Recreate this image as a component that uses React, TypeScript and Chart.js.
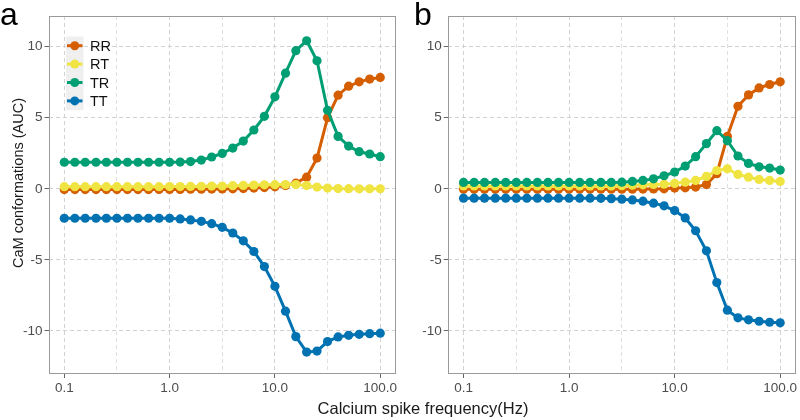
import React, { useEffect, useRef } from "react";
import { Chart, registerables } from "chart.js";
Chart.register(...registerables);

const FREQ = [0.1, 0.126, 0.158, 0.2, 0.251, 0.316, 0.398, 0.501, 0.631, 0.794, 1, 1.26, 1.58, 2, 2.51, 3.16, 3.98, 5.01, 6.31, 7.94, 10, 12.6, 15.8, 20, 25.1, 31.6, 39.8, 50.1, 63.1, 79.4, 100];
const SERIES = ["RR", "RT", "TR", "TT"];
const COLORS = ["#D55E00", "#F0E442", "#009E73", "#0072B2"];

const RR_A = [-0.05, -0.05, -0.05, -0.05, -0.05, -0.05, -0.05, -0.05, -0.05, -0.04, -0.04, -0.04, -0.03, -0.03, -0.02, -0.01, 0.0, 0.02, 0.05, 0.09, 0.14, 0.23, 0.4, 0.82, 2.16, 5.0, 6.59, 7.22, 7.53, 7.72, 7.84];
const RT_A = [0.15, 0.15, 0.15, 0.15, 0.15, 0.15, 0.15, 0.15, 0.15, 0.15, 0.16, 0.16, 0.17, 0.18, 0.19, 0.2, 0.22, 0.24, 0.26, 0.28, 0.29, 0.3, 0.3, 0.23, 0.12, 0.05, 0.02, 0.01, 0.0, 0.0, 0.0];
const TR_A = [1.87, 1.87, 1.87, 1.87, 1.87, 1.87, 1.87, 1.87, 1.87, 1.87, 1.87, 1.88, 1.92, 2.02, 2.24, 2.49, 2.87, 3.36, 4.14, 5.1, 6.47, 8.14, 9.72, 10.42, 9.01, 5.53, 3.69, 3.01, 2.61, 2.45, 2.26];
const TT_A = [-2.07, -2.07, -2.07, -2.07, -2.07, -2.07, -2.07, -2.07, -2.07, -2.07, -2.07, -2.12, -2.19, -2.29, -2.45, -2.71, -3.11, -3.66, -4.41, -5.47, -6.86, -8.61, -10.4, -11.49, -11.42, -10.75, -10.42, -10.31, -10.24, -10.19, -10.16];

const RR_B = [-0.03, -0.03, -0.03, -0.03, -0.03, -0.03, -0.03, -0.03, -0.03, -0.03, -0.03, -0.03, -0.03, -0.03, -0.03, -0.03, -0.03, -0.02, -0.01, 0.0, 0.05, 0.07, 0.12, 0.3, 1.06, 3.7, 5.81, 6.61, 7.1, 7.34, 7.53];
const RT_B = [0.2, 0.2, 0.2, 0.2, 0.2, 0.2, 0.2, 0.2, 0.2, 0.2, 0.2, 0.2, 0.2, 0.2, 0.2, 0.22, 0.25, 0.28, 0.31, 0.33, 0.38, 0.47, 0.59, 0.87, 1.29, 1.41, 1.01, 0.82, 0.66, 0.59, 0.52];
const TR_B = [0.45, 0.45, 0.45, 0.45, 0.45, 0.45, 0.45, 0.45, 0.45, 0.45, 0.45, 0.45, 0.45, 0.45, 0.45, 0.47, 0.52, 0.59, 0.7, 0.92, 1.18, 1.6, 2.26, 3.18, 4.09, 3.39, 2.31, 1.79, 1.55, 1.46, 1.32];
const TT_B = [-0.66, -0.66, -0.66, -0.66, -0.66, -0.66, -0.66, -0.66, -0.66, -0.66, -0.66, -0.66, -0.66, -0.67, -0.69, -0.73, -0.78, -0.87, -1.01, -1.2, -1.53, -2.05, -2.95, -4.36, -6.6, -8.54, -9.08, -9.22, -9.32, -9.39, -9.43];

const X_MAJOR = [0.1, 1, 10, 100];
const X_MINOR = [0.316, 3.16, 31.6];
const X_LABELS = ["0.1", "1.0", "10.0", "100.0"];
const Y_TICKS = [-10, -5, 0, 5, 10];
const X_TITLE = "Calcium spike frequency(Hz)";
const Y_TITLE = "CaM conformations (AUC)";

const FONT = "'Liberation Sans', Arial, sans-serif";

const borderPlugin = {
  id: "panelBorder",
  afterDraw(chart: any) {
    const { ctx, chartArea } = chart;
    const { left, top, right, bottom } = chartArea;
    ctx.save();
    ctx.strokeStyle = "#9a9a9a";
    ctx.lineWidth = 1;
    ctx.strokeRect(Math.round(left) + 0.5, Math.round(top) + 0.5, Math.round(right - left) - 1, Math.round(bottom - top) - 1);
    ctx.restore();
  },
};

const legendPlugin = {
  id: "innerLegend",
  afterDraw(chart: any, _args: any, opts: any) {
    if (!opts || !opts.show) return;
    const { ctx } = chart;
    const x0 = 66;
    const y0 = 36.5;
    const w = 17.5;
    const h = 18.4;
    ctx.save();
    SERIES.forEach((name, i) => {
      const y = y0 + i * h;
      ctx.fillStyle = "#efefef";
      ctx.fillRect(x0, y, w, h);
      const cy = y + h / 2;
      ctx.strokeStyle = COLORS[i];
      ctx.lineWidth = 3;
      ctx.beginPath();
      ctx.moveTo(x0 + 1, cy);
      ctx.lineTo(x0 + w - 1, cy);
      ctx.stroke();
      ctx.fillStyle = COLORS[i];
      ctx.beginPath();
      ctx.arc(x0 + w / 2, cy, 4.5, 0, Math.PI * 2);
      ctx.fill();
      ctx.fillStyle = "#111";
      ctx.font = `14.5px ${FONT}`;
      ctx.textBaseline = "middle";
      ctx.textAlign = "left";
      ctx.fillText(name, 90, cy + 1);
    });
    ctx.restore();
  },
};

function makeDatasets(values: number[][]) {
  return values.map((vals, i) => ({
    label: SERIES[i],
    data: FREQ.map((f, j) => ({ x: f, y: vals[j] })),
    borderColor: COLORS[i],
    backgroundColor: COLORS[i],
    borderWidth: 3,
    pointRadius: 4.6,
    pointBorderWidth: 0,
    pointHoverRadius: 4.6,
    tension: 0,
    order: 3 - i,
  }));
}

function Panel(props: { values: number[][]; yWidth: number; padRight: number; legend: boolean; left: number }) {
  const ref = useRef<HTMLCanvasElement | null>(null);
  useEffect(() => {
    if (!ref.current) return;
    const isMinor = (v: number) => X_MINOR.some((m) => Math.abs(m - v) < 1e-6);
    const chart = new Chart(ref.current, {
      type: "line",
      data: { datasets: makeDatasets(props.values) as any },
      plugins: [borderPlugin, legendPlugin],
      options: {
        responsive: false,
        animation: false,
        events: [],
        layout: { padding: { top: 16, right: props.padRight, left: 0, bottom: 0 } },
        plugins: {
          legend: { display: false },
          tooltip: { enabled: false },
          innerLegend: { show: props.legend },
        } as any,
        scales: {
          x: {
            type: "logarithmic",
            min: 0.0708,
            max: 139.3,
            afterBuildTicks: (axis: any) => {
              axis.ticks = [...X_MAJOR, ...X_MINOR].sort((a, b) => a - b).map((v) => ({ value: v }));
            },
            afterFit: (axis: any) => {
              axis.height = 46;
            },
            ticks: {
              autoSkip: false,
              maxRotation: 0,
              padding: 2,
              color: "#4d4d4d",
              font: { family: FONT, size: 13.5 },
              callback: (v: any) => {
                const idx = X_MAJOR.findIndex((m) => Math.abs(m - Number(v)) < 1e-6);
                return idx >= 0 ? X_LABELS[idx] : "";
              },
            },
            grid: {
              color: (c: any) => (c.tick && isMinor(c.tick.value) ? "#e0e0e0" : "#d2d2d2"),
              lineWidth: 1,
              tickLength: 4,
              tickWidth: 1,
              tickColor: (c: any) => (c.tick && isMinor(c.tick.value) ? "rgba(0,0,0,0)" : "#666"),
            },
            border: { display: false, dash: [4, 3] },
          },
          y: {
            type: "linear",
            min: -13.03,
            max: 12.16,
            afterBuildTicks: (axis: any) => {
              axis.ticks = Y_TICKS.map((v) => ({ value: v }));
            },
            afterFit: (axis: any) => {
              axis.width = props.yWidth;
            },
            ticks: {
              padding: 2,
              color: "#4d4d4d",
              font: { family: FONT, size: 13.5 },
              callback: (v: any) => String(v),
            },
            grid: {
              color: "#d2d2d2",
              lineWidth: 1,
              tickLength: 4,
              tickWidth: 1,
              tickColor: "#666",
            },
            border: { display: false, dash: [4, 3] },
          },
        },
      } as any,
    });
    return () => chart.destroy();
  }, []);
  return (
    <canvas
      ref={ref}
      width={400}
      height={420}
      style={{ position: "absolute", left: props.left, top: 0, width: 400, height: 420 }}
    />
  );
}

export default function App() {
  return (
    <div style={{ position: "fixed", left: 0, top: 0, width: 800, height: 420, background: "#fff", overflow: "hidden", fontFamily: FONT }}>
      <Panel values={[RR_A, RT_A, TR_A, TT_A]} yWidth={48.5} padRight={2} legend={true} left={0} />
      <Panel values={[RR_B, RT_B, TR_B, TT_B]} yWidth={47.7} padRight={3.3} legend={false} left={400} />
      <div style={{ position: "absolute", left: 0, top: -6, fontSize: 32, color: "#000", lineHeight: "40px" }}>a</div>
      <div style={{ position: "absolute", left: 414, top: -6, fontSize: 32, color: "#000", lineHeight: "40px" }}>b</div>
      <div
        style={{
          position: "absolute",
          left: 18,
          top: 183,
          fontSize: 14.5,
          color: "#1a1a1a",
          whiteSpace: "nowrap",
          transform: "translate(-50%, -50%) rotate(-90deg)",
        }}
      >
        {Y_TITLE}
      </div>
      <div
        style={{
          position: "absolute",
          left: 423,
          top: 408,
          fontSize: 16.5,
          color: "#1a1a1a",
          whiteSpace: "nowrap",
          transform: "translate(-50%, -50%)",
        }}
      >
        {X_TITLE}
      </div>
    </div>
  );
}
